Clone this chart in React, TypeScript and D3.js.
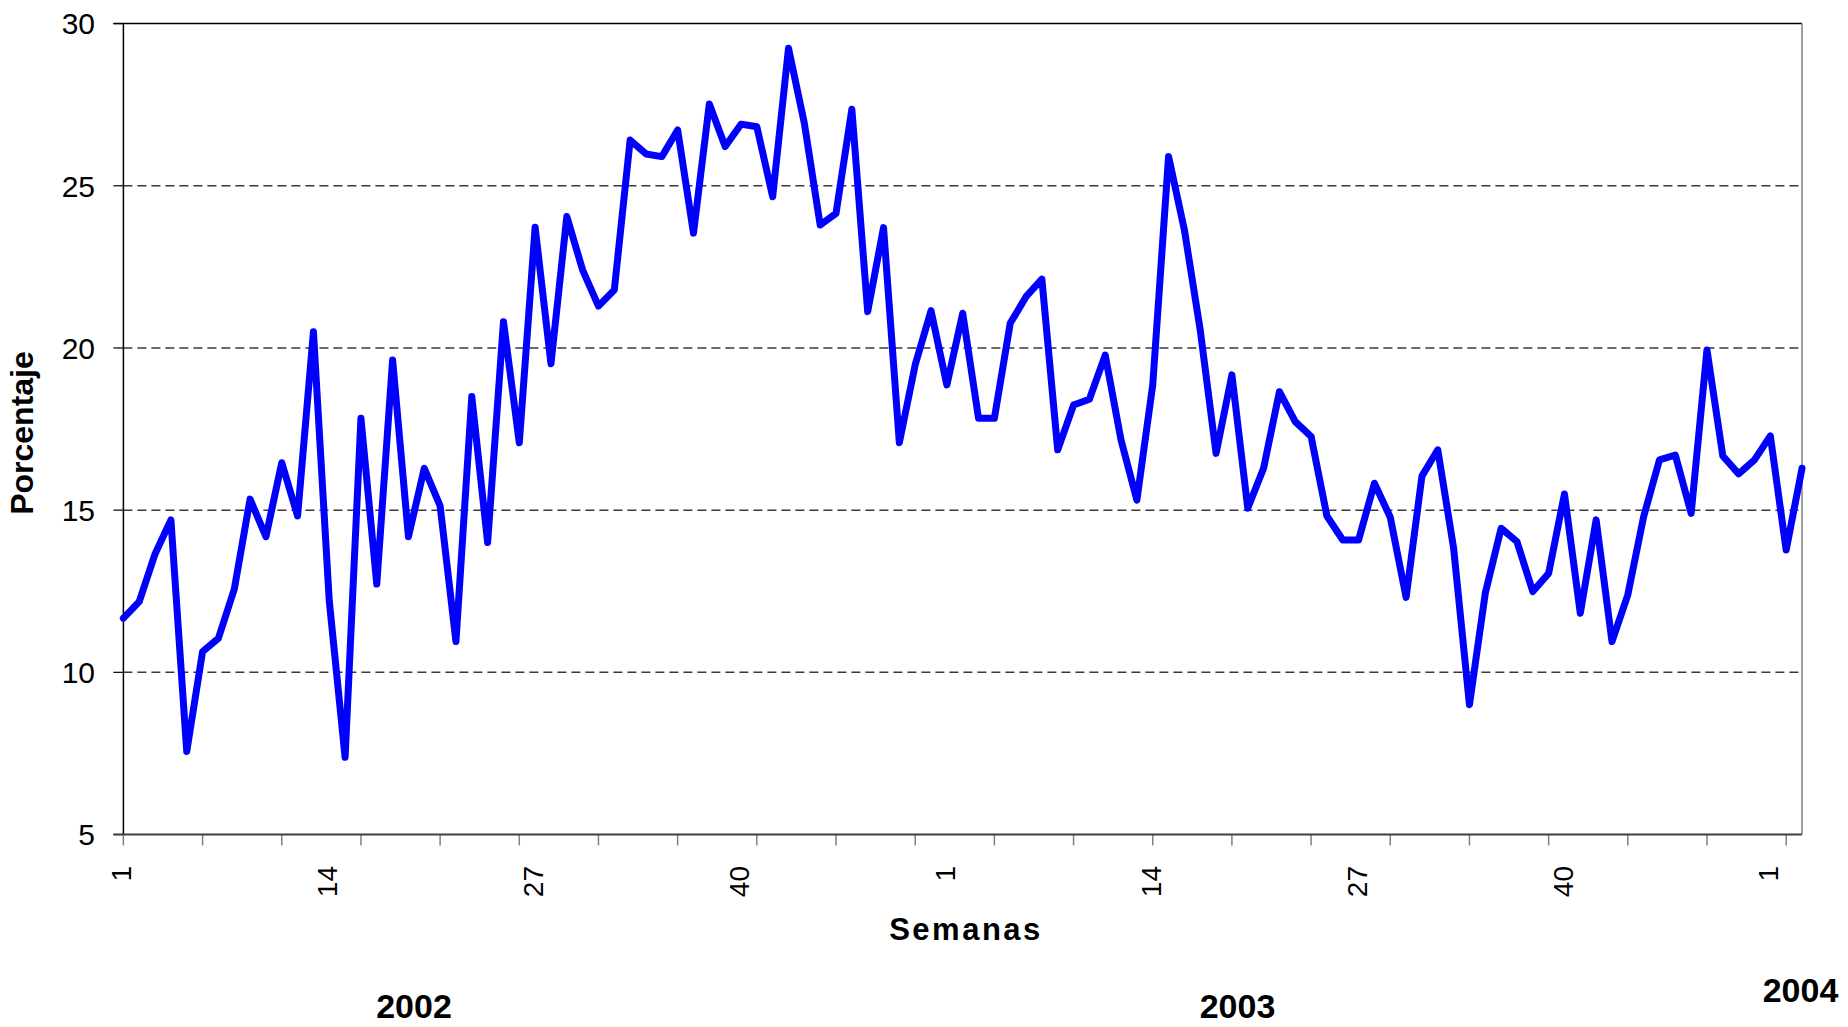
import React, { useRef, useEffect } from 'react';
import * as d3 from 'd3';

// Porcentaje semanal, 2002 - 2004
const values2002 = [11.67, 12.18, 13.65, 14.7, 7.56, 10.64, 11.05, 12.56, 15.34, 14.18,
    16.46, 14.82, 20.5, 12.2, 7.38, 17.83, 12.72, 19.63, 14.18, 16.29,
    15.13, 10.95, 18.5, 14.0, 20.81, 17.08, 23.72, 19.51, 24.05, 22.4,
    21.29, 21.79, 26.41, 25.98, 25.9, 26.72, 23.54, 27.52, 26.21, 26.9,
    26.82, 24.66, 29.24, 26.93, 23.79, 24.15, 27.36, 21.12, 23.71, 17.08,
    19.48, 21.15];
const values2003 = [18.86, 21.07, 17.83, 17.83, 20.76, 21.58, 22.12, 16.86, 18.24, 18.42,
    19.78, 17.16, 15.31, 18.86, 25.9, 23.64, 20.55, 16.75, 19.17, 15.06,
    16.29, 18.65, 17.73, 17.27, 14.82, 14.08, 14.08, 15.83, 14.78, 12.31,
    16.05, 16.86, 13.83, 9.0, 12.44, 14.44, 14.03, 12.49, 13.05, 15.5,
    11.82, 14.7, 10.95, 12.39, 14.8, 16.55, 16.7, 14.9, 19.94, 16.67,
    16.12, 16.55];
const values2004 = [17.29, 13.77, 16.29];

const years = ["2002", "2003", "2004"];
const yTicks = [5, 10, 15, 20, 25, 30];
const gridValues = [10, 15, 20, 25];

const App = () => {
    const ref = useRef(null);

    useEffect(() => {
        const svg = d3.select(ref.current);
        svg.selectAll("*").remove();

        // build the categories (year, week, value)
        const data = [];
        [values2002, values2003, values2004].forEach((arr, k) => {
            arr.forEach((v, i) => data.push({ year: years[k], week: i + 1, value: v }));
        });

        const left = 123.4, right = 1802, top = 23.6, bottom = 834.5;
        const font = "'Liberation Sans', Arial, sans-serif";

        const x = d3.scalePoint().domain(data.map((d, i) => i)).range([left, right]);
        const y = d3.scaleLinear().domain([5, 30]).range([bottom, top]);

        // grid
        svg.append("g").selectAll("line")
            .data(gridValues)
            .join("line")
            .attr("x1", left).attr("x2", right)
            .attr("y1", d => y(d)).attr("y2", d => y(d))
            .attr("stroke", "#3a3a3a")
            .attr("stroke-width", 1.5)
            .attr("stroke-dasharray", "9,5");

        // frame
        svg.append("line").attr("x1", left - 10).attr("x2", right).attr("y1", top).attr("y2", top)
            .attr("stroke", "#000").attr("stroke-width", 1.5);
        svg.append("line").attr("x1", right).attr("x2", right).attr("y1", top).attr("y2", bottom)
            .attr("stroke", "#808080").attr("stroke-width", 1.5);

        // y axis
        const yAxis = svg.append("g");
        yAxis.append("line").attr("x1", left).attr("x2", left).attr("y1", top).attr("y2", bottom)
            .attr("stroke", "#000").attr("stroke-width", 1.5);
        yAxis.selectAll(".tick")
            .data(yTicks)
            .join("line")
            .attr("x1", left - 10).attr("x2", left)
            .attr("y1", d => y(d)).attr("y2", d => y(d))
            .attr("stroke", "#000").attr("stroke-width", 1.2);
        yAxis.selectAll("text")
            .data(yTicks)
            .join("text")
            .attr("x", 95)
            .attr("y", d => y(d))
            .attr("dy", "0.36em")
            .attr("text-anchor", "end")
            .style("font-family", font)
            .style("font-size", "30px")
            .text(d => d);

        // x axis
        const xAxis = svg.append("g");
        xAxis.selectAll("line")
            .data(data.filter((d, i) => i % 5 === 0).map((d, i) => i * 5))
            .join("line")
            .attr("x1", d => x(d)).attr("x2", d => x(d))
            .attr("y1", bottom).attr("y2", bottom + 11)
            .attr("stroke", "#808080").attr("stroke-width", 1.5);
        xAxis.append("line").attr("x1", left - 10).attr("x2", right).attr("y1", bottom).attr("y2", bottom)
            .attr("stroke", "#404040").attr("stroke-width", 2.2);
        xAxis.selectAll("text")
            .data(data.map((d, i) => ({ ...d, i })).filter(d => d.i % 13 === 0))
            .join("text")
            .attr("transform", d => `translate(${x(d.i) - 2},${866}) rotate(-90)`)
            .attr("dy", "0.36em")
            .attr("text-anchor", "end")
            .style("font-family", font)
            .style("font-size", "28px")
            .text(d => d.week);

        // line
        const line = d3.line().x((d, i) => x(i)).y(d => y(d.value));
        svg.append("path")
            .datum(data)
            .attr("d", line)
            .attr("fill", "none")
            .attr("stroke", "#0000ff")
            .attr("stroke-width", 7)
            .attr("stroke-linejoin", "round")
            .attr("stroke-linecap", "round");

        // titles
        svg.append("text")
            .attr("transform", "translate(33,433) rotate(-90)")
            .attr("text-anchor", "middle")
            .style("font-family", font).style("font-weight", "bold").style("font-size", "32px")
            .text("Porcentaje");
        svg.append("text")
            .attr("x", 966).attr("y", 940)
            .attr("text-anchor", "middle")
            .style("font-family", font).style("font-weight", "bold").style("font-size", "31px")
            .style("letter-spacing", "2.5px")
            .text("Semanas");

        const yearPos = [{ x: 414, y: 1017.7 }, { x: 1237.5, y: 1017.7 }, { x: 1800.5, y: 1002 }];
        svg.selectAll(".year")
            .data(years)
            .join("text")
            .attr("class", "year")
            .attr("x", (d, i) => yearPos[i].x)
            .attr("y", (d, i) => yearPos[i].y)
            .attr("text-anchor", "middle")
            .style("font-family", font).style("font-weight", "bold").style("font-size", "34px")
            .text(d => d);
    }, []);

    return <svg ref={ref} width={1848} height={1027}
        style={{ position: "absolute", left: 0, top: 0, background: "#fff" }} />;
};

export default App;
